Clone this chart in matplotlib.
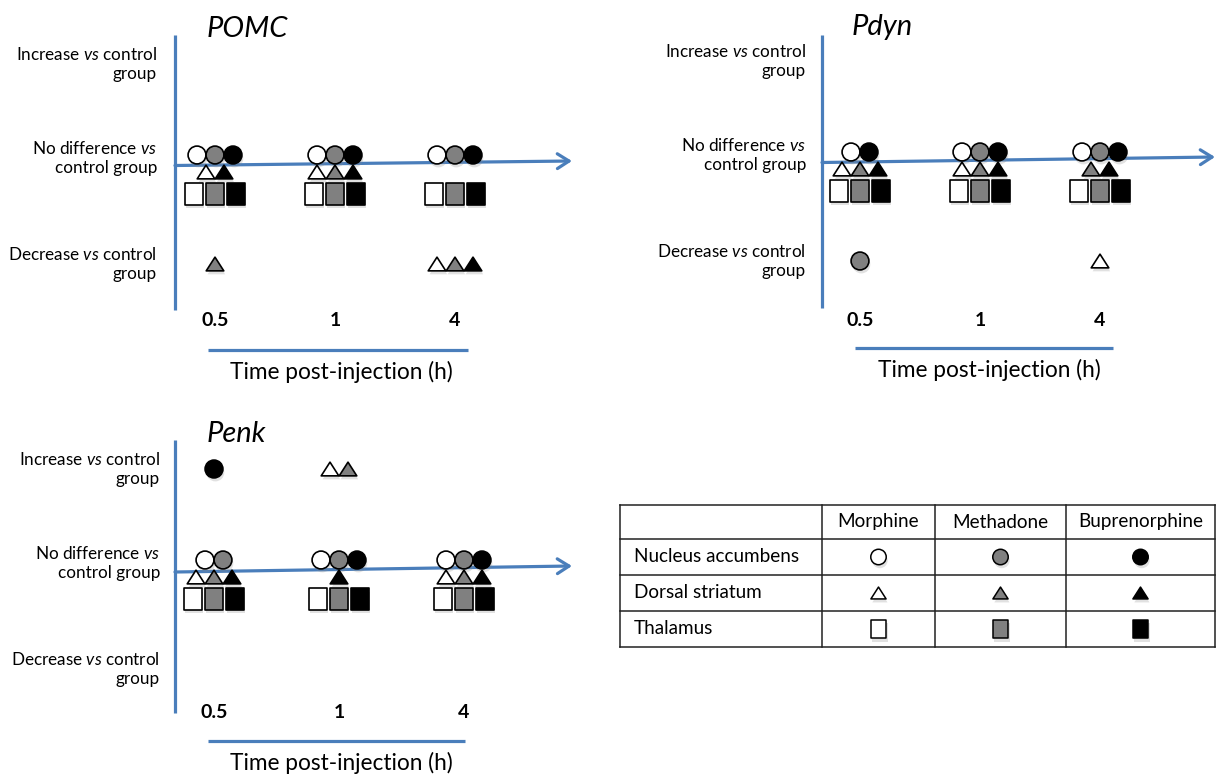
import matplotlib.pyplot as plt
from matplotlib import patheffects as pe
from matplotlib.path import Path

plt.rcParams['font.family'] = ['Lato', 'DejaVu Sans']
plt.rcParams['mathtext.fontset'] = 'custom'
plt.rcParams['mathtext.rm'] = 'Lato'
plt.rcParams['mathtext.it'] = 'Lato:italic'

# categories
times = ['0.5', '1', '4']
drugs = ['Morphine', 'Methadone', 'Buprenorphine']
regions = ['Nucleus accumbens', 'Dorsal striatum', 'Thalamus']
levels = [1, 0, -1]
level_labels = ['Increase $\\mathit{vs}$ control\ngroup',
                'No difference $\\mathit{vs}$\ncontrol group',
                'Decrease $\\mathit{vs}$ control\ngroup']

# effect vs control group: 1 increase, 0 no difference, -1 decrease
# each list: rows = morphine, methadone, buprenorphine ; columns = 0.5, 1, 4 h
pomc_nac = [[0, 0, 0], [0, 0, 0], [0, 0, 0]]
pomc_ds = [[0, 0, -1], [-1, 0, -1], [0, 0, -1]]
pomc_thal = [[0, 0, 0], [0, 0, 0], [0, 0, 0]]

pdyn_nac = [[0, 0, 0], [-1, 0, 0], [0, 0, 0]]
pdyn_ds = [[0, 0, -1], [0, 0, 0], [0, 0, 0]]
pdyn_thal = [[0, 0, 0], [0, 0, 0], [0, 0, 0]]

penk_nac = [[0, 0, 0], [0, 0, 0], [1, 0, 0]]
penk_ds = [[0, 1, 0], [0, 1, 0], [0, 0, 0]]
penk_thal = [[0, 0, 0], [0, 0, 0], [0, 0, 0]]

genes = ['POMC', 'Pdyn', 'Penk']
gene_data = {'POMC': [pomc_nac, pomc_ds, pomc_thal],
             'Pdyn': [pdyn_nac, pdyn_ds, pdyn_thal],
             'Penk': [penk_nac, penk_ds, penk_thal]}

# --- styles ---
W, H = 1216, 774
blue = '#4a7ebb'
fills = ['white', '#808080', 'black']
tri = Path([(-1, -0.78), (1, -0.78), (0, 0.78), (-1, -0.78)], closed=True)
rect = Path([(-0.85, -1), (0.85, -1), (0.85, 1), (-0.85, 1), (-0.85, -1)], closed=True)
shapes = ['o', tri, rect]
sizes = [165, 160, 230]
slot_px = [18, 18, 21]          # spacing between symbols of one row
row_dy = [9, -8, -30]           # rows above / below the no-difference line
shadow = [pe.SimplePatchShadow(offset=(1, -2.5), shadow_rgbFace='#888888', alpha=0.25), pe.Normal()]

# panel layout in pixels
layout = {
    'POMC': dict(axis_x=175, top=35, bottom=310, c0=215, ppt=120, zero=164, line_y0=165.5,
                 tip=(572, 161), title=(207, 29), tick_y=321, tline=(208, 468, 350),
                 xlab=(341, 372), lab_x=157),
    'Pdyn': dict(axis_x=822, top=35, bottom=308, c0=860, ppt=120, zero=161, line_y0=162.5,
                 tip=(1215, 157), title=(852, 27), tick_y=320, tline=(855, 1113, 348),
                 xlab=(989, 370), lab_x=806),
    'Penk': dict(axis_x=175, top=440, bottom=713, c0=214, ppt=125, zero=569, line_y0=572,
                 tip=(572, 566), title=(207, 434), tick_y=712, tline=(208, 465, 741),
                 xlab=(341, 763), lab_x=160),
}

fig = plt.figure(figsize=(W / 100, H / 100), dpi=100)

for g in genes:
    L = layout[g]
    ppt, c0, zero = L['ppt'], L['c0'], L['zero']
    ax = fig.add_axes([0, 0, 1, 1])
    ax.set_xlim(-c0 / ppt, (W - c0) / ppt)
    ax.set_ylim((zero - H) / 100, zero / 100)
    ax.axis('off')
    ax.patch.set_alpha(0)

    def dx(px):
        return (px - c0) / ppt

    def dy(py):
        return (zero - py) / 100

    # axes lines
    ax.plot([dx(L['axis_x'])] * 2, [dy(L['top']), dy(L['bottom'])], color=blue, lw=2.3, solid_capstyle='butt')
    ax.annotate('', xy=(dx(L['tip'][0]), dy(L['tip'][1])), xytext=(dx(L['axis_x']), dy(L['line_y0'])),
                arrowprops=dict(arrowstyle='->,head_length=0.6,head_width=0.38', color=blue, lw=2.3,
                                mutation_scale=14, shrinkA=0, shrinkB=0))
    x0, x1, yl = L['tline']
    ax.plot([dx(x0), dx(x1)], [dy(yl), dy(yl)], color=blue, lw=2.3, solid_capstyle='butt')
    ax.text(dx(L['xlab'][0]), dy(L['xlab'][1]), 'Time post-injection (h)', ha='center', va='center', fontsize=16.3)
    ax.text(dx(L['title'][0]), dy(L['title'][1]), g, ha='left', va='center', fontsize=21, style='italic')

    for lev, lab in zip(levels, level_labels):
        ax.text(dx(L['lab_x']), lev + (0.06 if lev == 0 else 0), lab, ha='right', va='center',
                multialignment='right', fontsize=12.3, linespacing=1.2)
    for t, tl in enumerate(times):
        ax.text(t, dy(L['tick_y']), tl, ha='center', va='center', fontsize=14, fontweight='bold')

    # symbols
    data = gene_data[g]
    for t in range(len(times)):
        for lev in levels:
            rows = []
            for r in range(len(regions)):
                present = [d for d in range(len(drugs)) if data[r][d][t] == lev]
                if present:
                    rows.append((r, present))
            for k, (r, present) in enumerate(rows):
                off_y = row_dy[r] if lev == 0 else -19 * k
                n = len(present)
                for j, d in enumerate(present):
                    off_x = (j - (n - 1) / 2) * slot_px[r]
                    ax.scatter(t + off_x / ppt, lev + off_y / 100, marker=shapes[r], s=sizes[r],
                               c=fills[d], edgecolors='black', linewidths=1.2, path_effects=shadow, zorder=3)

# --- legend table ---
axt = fig.add_axes([0, 0, 1, 1])
axt.set_xlim(0, W)
axt.set_ylim(H, 0)
axt.axis('off')
axt.patch.set_alpha(0)
col_edges = [620, 822, 935, 1066, 1215]
row_edges = [505, 539, 575, 611, 647]
for xe in col_edges:
    axt.plot([xe, xe], [row_edges[0], row_edges[-1]], color='#222222', lw=1.1)
for ye in row_edges:
    axt.plot([col_edges[0], col_edges[-1]], [ye, ye], color='#222222', lw=1.1)
hy = (row_edges[0] + row_edges[1]) / 2
for c, dname in enumerate(drugs):
    cx = (col_edges[c + 1] + col_edges[c + 2]) / 2
    axt.text(cx, hy, dname, ha='center', va='center', fontsize=13.6)
for r, rname in enumerate(regions):
    cy = (row_edges[r + 1] + row_edges[r + 2]) / 2
    axt.text(col_edges[0] + 14, cy, rname, ha='left', va='center', fontsize=13.6)
    for c in range(len(drugs)):
        cx = (col_edges[c + 1] + col_edges[c + 2]) / 2
        axt.scatter(cx, cy, marker=shapes[r], s=sizes[r] * 0.75, c=fills[c], edgecolors='black',
                    linewidths=1.1, path_effects=shadow, zorder=3)

fig.savefig('out.png', dpi=100)
